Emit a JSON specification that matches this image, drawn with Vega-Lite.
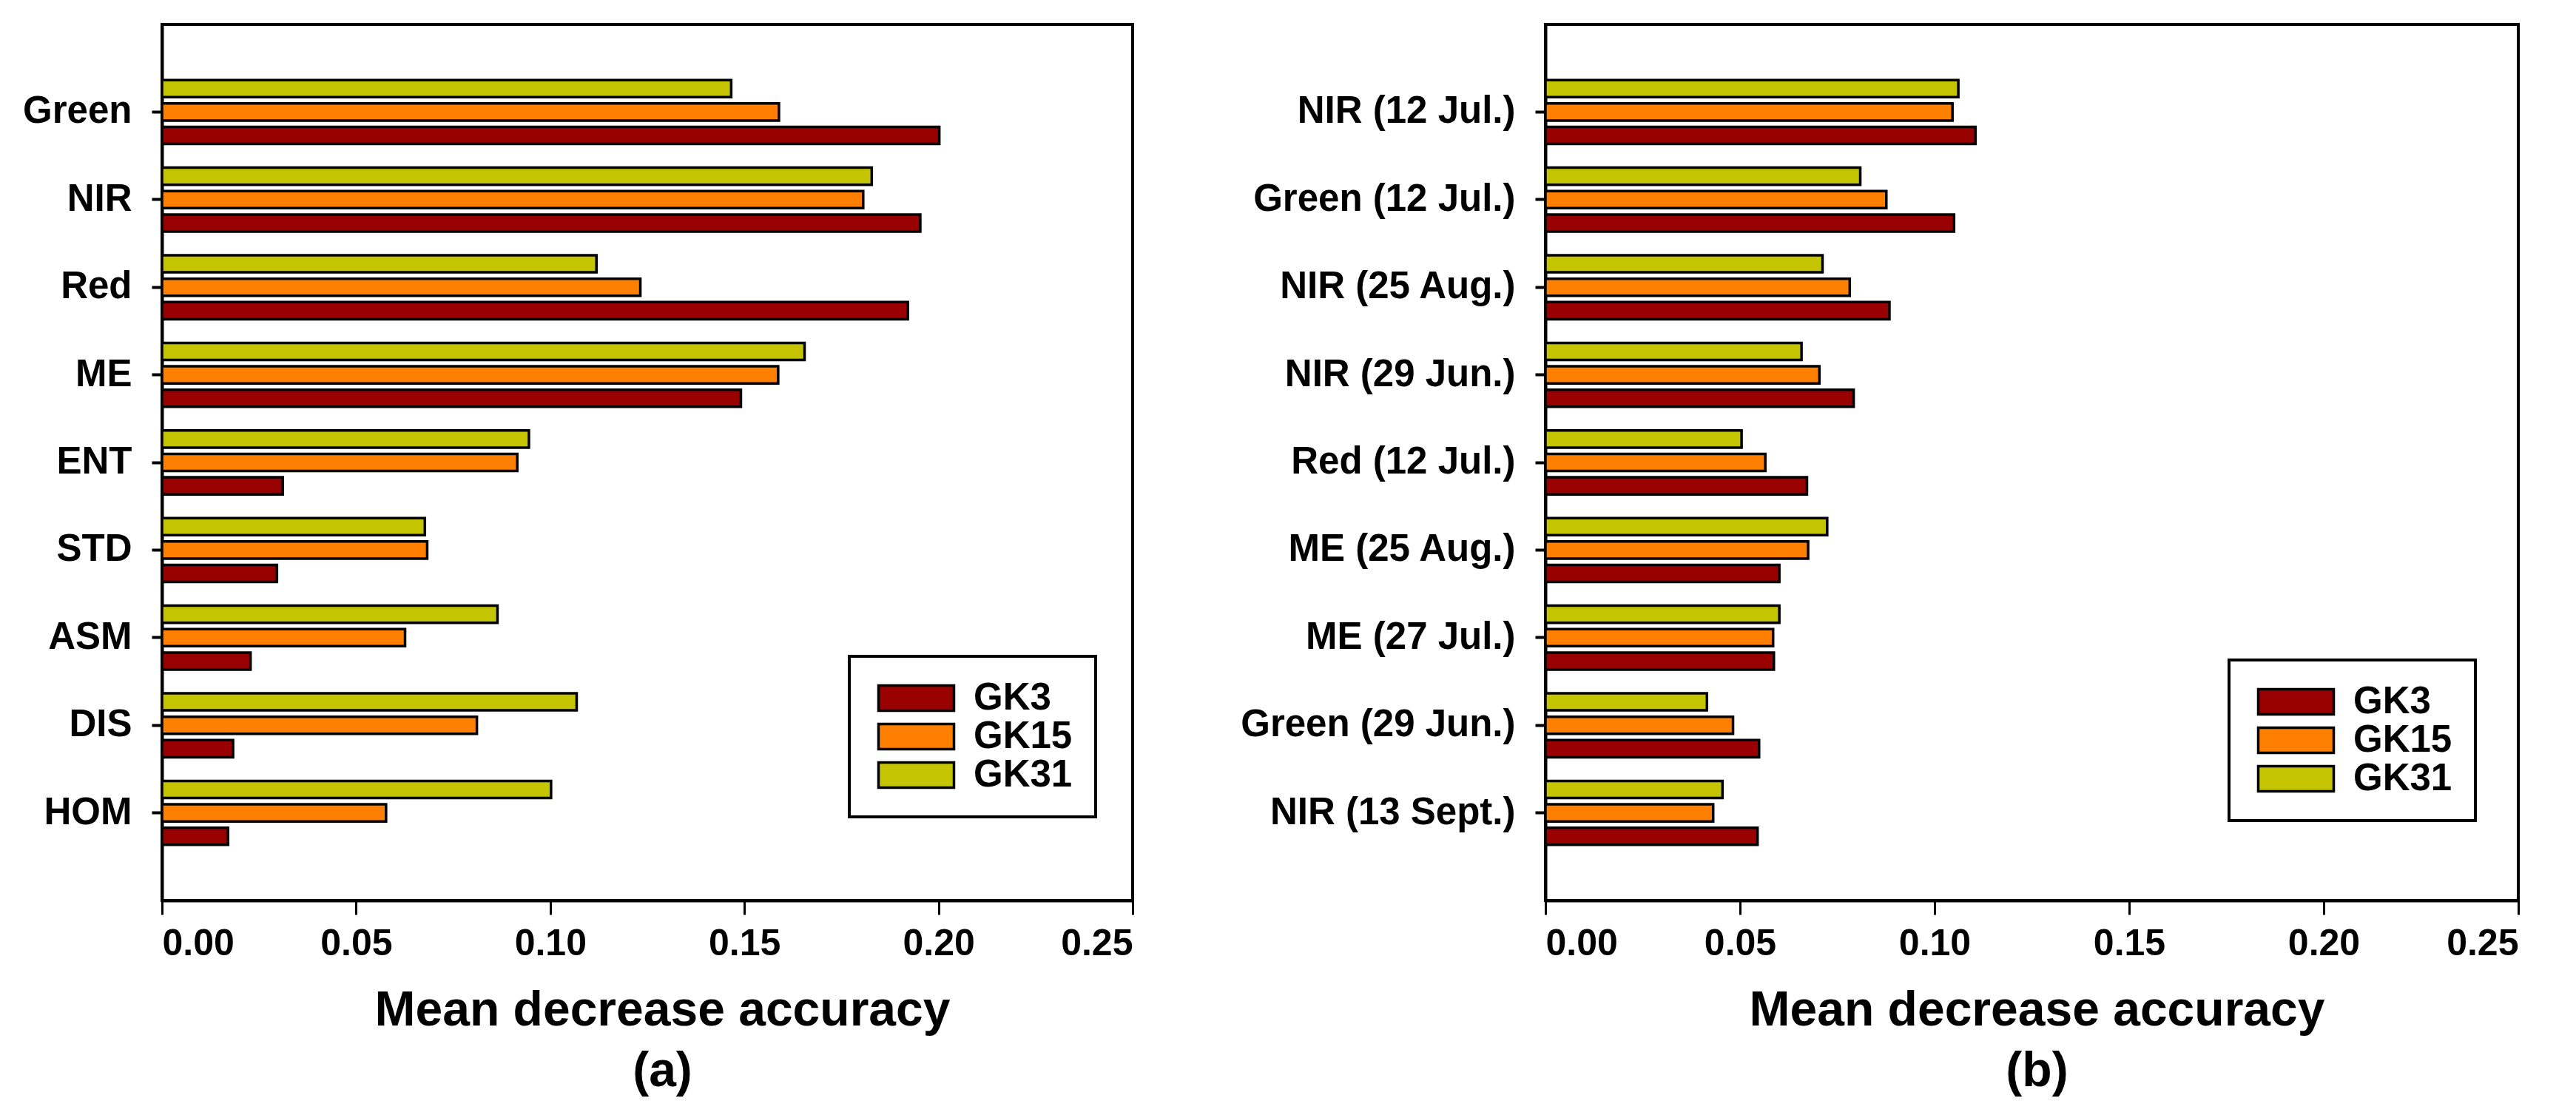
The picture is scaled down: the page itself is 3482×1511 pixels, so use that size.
{
  "$schema": "https://vega.github.io/schema/vega-lite/v6.json",
  "background": "white",
  "padding": {"left": 28, "top": 31, "right": 5, "bottom": 5},
  "bounds": "flush",
  "spacing": 558,
  "datasets": {
    "a": [
      {"band": "Green", "series": "GK3", "value": 0.2002},
      {"band": "Green", "series": "GK15", "value": 0.1589},
      {"band": "Green", "series": "GK31", "value": 0.1466},
      {"band": "NIR", "series": "GK3", "value": 0.1953},
      {"band": "NIR", "series": "GK15", "value": 0.1806},
      {"band": "NIR", "series": "GK31", "value": 0.1828},
      {"band": "Red", "series": "GK3", "value": 0.1921},
      {"band": "Red", "series": "GK15", "value": 0.1232},
      {"band": "Red", "series": "GK31", "value": 0.1119},
      {"band": "ME", "series": "GK3", "value": 0.1491},
      {"band": "ME", "series": "GK15", "value": 0.1587},
      {"band": "ME", "series": "GK31", "value": 0.1655},
      {"band": "ENT", "series": "GK3", "value": 0.0311},
      {"band": "ENT", "series": "GK15", "value": 0.0915},
      {"band": "ENT", "series": "GK31", "value": 0.0945},
      {"band": "STD", "series": "GK3", "value": 0.0296},
      {"band": "STD", "series": "GK15", "value": 0.0683},
      {"band": "STD", "series": "GK31", "value": 0.0677},
      {"band": "ASM", "series": "GK3", "value": 0.0228},
      {"band": "ASM", "series": "GK15", "value": 0.0626},
      {"band": "ASM", "series": "GK31", "value": 0.0864},
      {"band": "DIS", "series": "GK3", "value": 0.0183},
      {"band": "DIS", "series": "GK15", "value": 0.0811},
      {"band": "DIS", "series": "GK31", "value": 0.1068},
      {"band": "HOM", "series": "GK3", "value": 0.0170},
      {"band": "HOM", "series": "GK15", "value": 0.0577},
      {"band": "HOM", "series": "GK31", "value": 0.1002}
    ],
    "b": [
      {"band": "NIR (12 Jul.)", "series": "GK3", "value": 0.1105},
      {"band": "NIR (12 Jul.)", "series": "GK15", "value": 0.1046},
      {"band": "NIR (12 Jul.)", "series": "GK31", "value": 0.1061},
      {"band": "Green (12 Jul.)", "series": "GK3", "value": 0.1050},
      {"band": "Green (12 Jul.)", "series": "GK15", "value": 0.0876},
      {"band": "Green (12 Jul.)", "series": "GK31", "value": 0.0809},
      {"band": "NIR (25 Aug.)", "series": "GK3", "value": 0.0884},
      {"band": "NIR (25 Aug.)", "series": "GK15", "value": 0.0782},
      {"band": "NIR (25 Aug.)", "series": "GK31", "value": 0.0712},
      {"band": "NIR (29 Jun.)", "series": "GK3", "value": 0.0792},
      {"band": "NIR (29 Jun.)", "series": "GK15", "value": 0.0704},
      {"band": "NIR (29 Jun.)", "series": "GK31", "value": 0.0658},
      {"band": "Red (12 Jul.)", "series": "GK3", "value": 0.0672},
      {"band": "Red (12 Jul.)", "series": "GK15", "value": 0.0565},
      {"band": "Red (12 Jul.)", "series": "GK31", "value": 0.0504},
      {"band": "ME (25 Aug.)", "series": "GK3", "value": 0.0601},
      {"band": "ME (25 Aug.)", "series": "GK15", "value": 0.0675},
      {"band": "ME (25 Aug.)", "series": "GK31", "value": 0.0724},
      {"band": "ME (27 Jul.)", "series": "GK3", "value": 0.0587},
      {"band": "ME (27 Jul.)", "series": "GK15", "value": 0.0585},
      {"band": "ME (27 Jul.)", "series": "GK31", "value": 0.0601},
      {"band": "Green (29 Jun.)", "series": "GK3", "value": 0.0549},
      {"band": "Green (29 Jun.)", "series": "GK15", "value": 0.0482},
      {"band": "Green (29 Jun.)", "series": "GK31", "value": 0.0415},
      {"band": "NIR (13 Sept.)", "series": "GK3", "value": 0.0545},
      {"band": "NIR (13 Sept.)", "series": "GK15", "value": 0.0431},
      {"band": "NIR (13 Sept.)", "series": "GK31", "value": 0.0455}
    ]
  },
  "config": {
    "font": "Liberation Sans",
    "view": {"stroke": "black", "strokeWidth": 4},
    "axis": {
      "grid": false,
      "domainColor": "black",
      "domainWidth": 4,
      "tickColor": "black",
      "tickWidth": 4,
      "labelFont": "Liberation Sans",
      "labelFontWeight": "bold",
      "labelColor": "black",
      "labelLimit": 1000,
      "titleFont": "Liberation Sans",
      "titleFontWeight": "bold",
      "titleColor": "black"
    },
    "legend": {
      "strokeColor": "black",
      "strokeWidth": 4,
      "fillColor": "white",
      "padding": 31,
      "rowPadding": 0,
      "symbolType": "M-1,-1H5V1H-1Z",
      "symbolSize": 1156,
      "symbolStrokeColor": "black",
      "symbolStrokeWidth": 3.5,
      "symbolOpacity": 1,
      "labelFont": "Liberation Sans",
      "labelFontSize": 51,
      "labelFontWeight": "bold",
      "labelColor": "black",
      "labelOffset": 86
    }
  },
  "resolve": {
    "scale": {"x": "independent", "y": "independent", "yOffset": "independent", "color": "independent"},
    "legend": {"color": "independent"}
  },
  "hconcat": [
    {
      "width": 1312,
      "height": 1184,
      "data": {"name": "a"},
      "mark": {"type": "bar", "stroke": "black", "strokeWidth": 3.5},
      "encoding": {
        "y": {
          "field": "band", "type": "nominal",
          "sort": ["Green", "NIR", "Red", "ME", "ENT", "STD", "ASM", "DIS", "HOM"],
          "scale": {"paddingInner": 0.27, "paddingOuter": 0.635},
          "axis": {"title": null, "labelFontSize": 51, "labelPadding": 27, "tickSize": 14}
        },
        "yOffset": {
          "field": "series", "type": "nominal",
          "sort": ["GK31", "GK15", "GK3"],
          "scale": {"paddingInner": 0.27, "paddingOuter": 0}
        },
        "x": {
          "field": "value", "type": "quantitative",
          "scale": {"domain": [0, 0.25], "nice": false},
          "axis": {
            "values": [0, 0.05, 0.1, 0.15, 0.2, 0.25],
            "format": ".2f",
            "labelFontSize": 50,
            "tickSize": 19,
            "tickWidth": 3,
            "labelPadding": 14,
            "labelDx": 15,
            "title": ["Mean decrease accuracy", "(a)"],
            "titleFontSize": 66,
            "titlePadding": 33,
            "titleLineHeight": 82,
            "titleX": 676
          }
        },
        "color": {
          "field": "series", "type": "nominal",
          "scale": {"domain": ["GK3", "GK15", "GK31"], "range": ["#990000", "#FF8000", "#C4C400"]},
          "legend": {"title": null, "orient": "none", "legendX": 929, "legendY": 854}
        }
      }
    },
    {
      "width": 1315,
      "height": 1184,
      "data": {"name": "b"},
      "mark": {"type": "bar", "stroke": "black", "strokeWidth": 3.5},
      "encoding": {
        "y": {
          "field": "band", "type": "nominal",
          "sort": ["NIR (12 Jul.)", "Green (12 Jul.)", "NIR (25 Aug.)", "NIR (29 Jun.)", "Red (12 Jul.)", "ME (25 Aug.)", "ME (27 Jul.)", "Green (29 Jun.)", "NIR (13 Sept.)"],
          "scale": {"paddingInner": 0.27, "paddingOuter": 0.635},
          "axis": {"title": null, "labelFontSize": 51, "labelPadding": 27, "tickSize": 14}
        },
        "yOffset": {
          "field": "series", "type": "nominal",
          "sort": ["GK31", "GK15", "GK3"],
          "scale": {"paddingInner": 0.27, "paddingOuter": 0}
        },
        "x": {
          "field": "value", "type": "quantitative",
          "scale": {"domain": [0, 0.25], "nice": false},
          "axis": {
            "values": [0, 0.05, 0.1, 0.15, 0.2, 0.25],
            "format": ".2f",
            "labelFontSize": 50,
            "tickSize": 19,
            "tickWidth": 3,
            "labelPadding": 14,
            "labelDx": 13,
            "title": ["Mean decrease accuracy", "(b)"],
            "titleFontSize": 66,
            "titlePadding": 33,
            "titleLineHeight": 82,
            "titleX": 664
          }
        },
        "color": {
          "field": "series", "type": "nominal",
          "scale": {"domain": ["GK3", "GK15", "GK31"], "range": ["#990000", "#FF8000", "#C4C400"]},
          "legend": {"title": null, "orient": "none", "legendX": 924, "legendY": 859}
        }
      }
    }
  ]
}
